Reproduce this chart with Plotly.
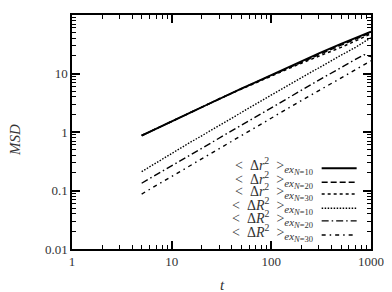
import plotly.graph_objects as go

t = [5, 7, 10, 15, 20, 30, 50, 70, 100, 150, 200, 300, 500, 700, 850, 1000]
r2_n10 = [0.87, 1.13, 1.5, 2.1, 2.65, 3.7, 5.5, 7.1, 9.4, 13.0, 16.3, 22.0, 32.0, 40.0, 46.0, 52.0]
r2_n20 = [0.87, 1.13, 1.5, 2.1, 2.65, 3.7, 5.5, 7.1, 9.3, 12.7, 15.8, 21.0, 30.5, 38.5, 44.0, 50.0]
r2_n30 = [0.87, 1.13, 1.5, 2.1, 2.65, 3.7, 5.4, 7.0, 9.0, 12.2, 15.0, 19.5, 28.0, 36.0, 42.0, 48.0]
R2_n10 = [0.21, 0.30, 0.43, 0.65, 0.86, 1.3, 2.15, 3.0, 4.3, 6.4, 8.5, 12.5, 20.5, 28.0, 34.0, 41.0]
R2_n20 = [0.133, 0.186, 0.265, 0.40, 0.53, 0.79, 1.3, 1.83, 2.6, 3.9, 5.2, 7.7, 12.6, 17.5, 21.0, 19.5]
R2_n30 = [0.087, 0.122, 0.174, 0.26, 0.35, 0.52, 0.87, 1.2, 1.73, 2.6, 3.45, 5.1, 8.5, 11.8, 14.3, 16.5]

symbols = ["r", "r", "r", "R", "R", "R"]
n_values = ["10", "20", "30", "10", "20", "30"]
labels = [
    "&lt;\u2002Δ<i>%s</i><sup>2</sup>\u2002&gt;<sub><span style='font-size:11px'><i>ex</i></span>"
    "<sub><span style='font-size:8.5px'><i>N</i>=%s</span></sub></sub>" % (s, n)
    for s, n in zip(symbols, n_values)
]
series = [r2_n10, r2_n20, r2_n30, R2_n10, R2_n20, R2_n30]
dashes = ["solid", "6px,3px", "3px,3px", "1.5px,1.5px", "7px,3px,1.5px,3px", "4px,4px,1.5px,4px"]
widths = [1.9, 1.5, 1.5, 1.4, 1.4, 1.4]

x_ticks = [1, 10, 100, 1000]
y_ticks = [0.01, 0.1, 1, 10, 100]
y_ticklabels = ["0.01", "0.1", "1", "10", "100"]

SERIF = "'Liberation Serif', 'DejaVu Serif', serif"

fig = go.Figure()
for ys, name, d, w in zip(series, labels, dashes, widths):
    fig.add_trace(go.Scatter(x=t, y=ys, mode="lines", name=name,
                             line=dict(color="black", dash=d, width=w),
                             showlegend=False))

# manual legend (text right-aligned, sample on the right)
leg_y = [0.345, 0.285, 0.235, 0.174, 0.12, 0.06]
for lab, d, w, yy in zip(labels, dashes, widths, leg_y):
    fig.add_annotation(xref="paper", yref="paper", x=0.813, y=yy + 0.008, text=lab,
                       showarrow=False, xanchor="right", yanchor="middle",
                       font=dict(family=SERIF, size=14, color="#333"))
    fig.add_shape(type="line", xref="paper", yref="paper", x0=0.835, x1=0.952,
                  y0=yy, y1=yy, line=dict(color="black", dash=d, width=w))

# axis titles
fig.add_annotation(xref="paper", yref="paper", x=-0.1906, y=0.466, text="<i>MSD</i>",
                   showarrow=False, textangle=-90, xanchor="center", yanchor="middle",
                   font=dict(family=SERIF, size=15, color="#333"))
fig.add_annotation(xref="paper", yref="paper", x=0.5017, y=-0.154, text="<i>t</i>",
                   showarrow=False, xanchor="center", yanchor="middle",
                   font=dict(family=SERIF, size=15, color="#333"))

minor_x = [m * 10 ** k for k in range(0, 3) for m in range(2, 10)]
minor_y = [m * 10 ** k for k in range(-2, 2) for m in range(2, 10)]

axis_common = dict(
    type="log", showgrid=False, zeroline=False, showline=True, automargin=False,
    linecolor="black", linewidth=1.5, mirror="allticks",
    ticks="inside", ticklen=8, tickwidth=1.5, tickcolor="black",
    tickfont=dict(family=SERIF, size=13, color="#333"),
)

fig.update_xaxes(**axis_common, range=[0, 3], tickvals=x_ticks,
                 ticktext=[str(v) for v in x_ticks],
                 minor=dict(tickvals=minor_x, ticks="inside", ticklen=4,
                            tickwidth=1.2, tickcolor="black", showgrid=False))
fig.update_yaxes(**axis_common, range=[-2, 2], tickvals=y_ticks,
                 ticktext=y_ticklabels,
                 minor=dict(tickvals=minor_y, ticks="inside", ticklen=4,
                            tickwidth=1.2, tickcolor="black", showgrid=False))

fig.update_layout(
    width=392, height=292,
    margin=dict(l=64, r=29, t=7, b=51),
    paper_bgcolor="white", plot_bgcolor="white",
    showlegend=False,
)

fig.write_html("out.html")
